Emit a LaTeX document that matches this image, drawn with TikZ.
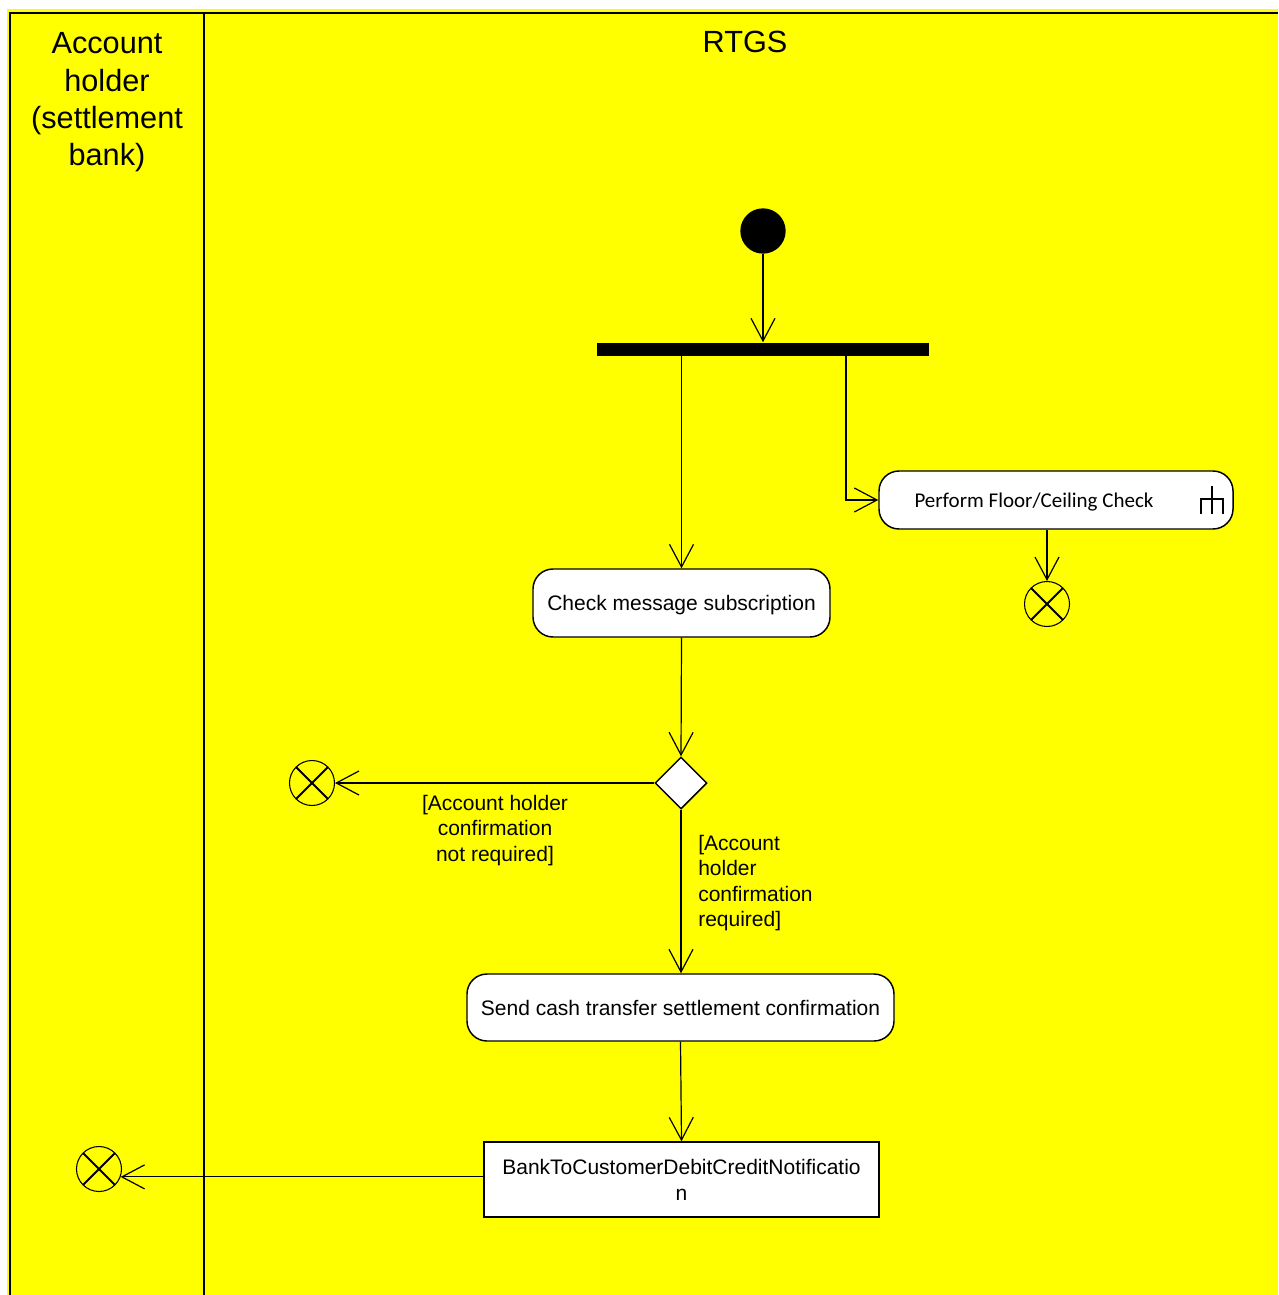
\documentclass[tikz,border=0pt]{standalone}
\usepackage{fontspec}
\setmainfont{Liberation Sans}
\newfontfamily\calibrifont{Carlito}
\usetikzlibrary{arrows.meta,shapes.geometric}
\definecolor{laneyellow}{RGB}{255,255,0}
\tikzset{
  conn/.style={draw=black, line width=0.9pt, -{Straight Barb[length=17pt,width=18pt,line width=0.9pt]}},
  action/.style={draw=black, fill=white, line width=1.1pt, rounded corners=15pt, inner sep=0pt, text depth=0pt, font=\fontsize{15.75pt}{19pt}\selectfont},
  objbox/.style={draw=black, fill=white, line width=1.1pt, inner sep=0pt, align=center, font=\fontsize{15.75pt}{19.5pt}\selectfont},
  ffinal/.style={circle, draw=black, line width=0.8pt, minimum size=33.75pt, inner sep=0pt,
    path picture={\draw[line width=1.4pt] (path picture bounding box.north west) -- (path picture bounding box.south east)
      (path picture bounding box.north east) -- (path picture bounding box.south west);}},
  guard/.style={inner sep=0pt, font=\fontsize{15.75pt}{19pt}\selectfont},
  lanetitle/.style={inner sep=0pt, align=center, font=\fontsize{23pt}{28pt}\selectfont},
  laneline/.style={draw=black, line width=1.5pt}
}
\begin{document}
\begin{tikzpicture}[x=0.75pt, y=-0.75pt]
\useasboundingbox (0,0) rectangle (1278,1295);
\fill[white] (0,0) rectangle (1278,1295);
% swimlanes
\fill[laneyellow] (7,9) rectangle (1278,1295);
\draw[laneline] (10,1295) -- (10,13.5) -- (1278,13.5);
\draw[laneline] (204,13.5) -- (204,1295);
\node[lanetitle] (lane1) at (107,102.5) {Account\\holder\\(settlement\\bank)};
\node[lanetitle] (lane2) at (745,42) {RTGS};

% nodes
\node[circle, fill=black, minimum size=34pt, inner sep=0pt] (start) at (763,231) {};
\node[rectangle, fill=black, minimum width=249pt, minimum height=9.75pt, inner sep=0pt] (fork) at (763,349) {};
\node[action, minimum width=265.5pt, minimum height=43.5pt] (perform) at (1056,500) {};
\node[inner sep=0pt, font=\calibrifont\fontsize{15.75pt}{19pt}\selectfont] (performtext) at (1034,502) {Perform Floor/Ceiling Check};
\draw[line width=1pt] (1212,486) -- (1212,514) (1201,514) -- (1201,499) -- (1223,499) -- (1223,514);
\node[ffinal] (ff1) at (1047,604) {};
\node[action, minimum width=222.75pt, minimum height=51pt] (check) at (681.5,603) {Check message subscription};
\node[diamond, draw=black, fill=white, line width=1.1pt, minimum size=39pt, inner sep=0pt, aspect=1] (dec) at (681,783) {};
\node[ffinal] (ff2) at (312,783) {};
\node[guard, align=center] (notreq) at (495,830.5) {[Account holder\\confirmation\\not required]};
\node[guard, align=left, anchor=west] (req) at (698,883) {[Account\\holder\\confirmation\\required]};
\node[action, minimum width=320.25pt, minimum height=50.25pt] (send) at (680.5,1007.5) {Send cash transfer settlement confirmation};
\node[objbox, minimum width=296.25pt, minimum height=56.25pt] (bank) at (681.5,1179.5) {BankToCustomerDebitCreditNotificatio\\n};
\node[ffinal] (ff3) at (99,1169) {};

% connectors
\draw[conn] (start.south) -- (start.south |- fork.north);
\draw[conn] (fork.south -| check.north) -- (check.north);
\coordinate (fork2) at (846,355);
\draw[conn] (fork2) |- (perform.west);
\draw[conn] (ff1.north |- perform.south) -- (ff1.north);
\draw[conn] (check.south) -- (dec.north);
\draw[conn] (dec.west) -- (ff2.east);
\draw[conn] (dec.south) -- (dec.south |- send.north);
\draw[conn] (send.south) -- (bank.north);
\draw[conn] (ff3.-20 -| bank.west) -- (ff3.-20);
\end{tikzpicture}
\end{document}
